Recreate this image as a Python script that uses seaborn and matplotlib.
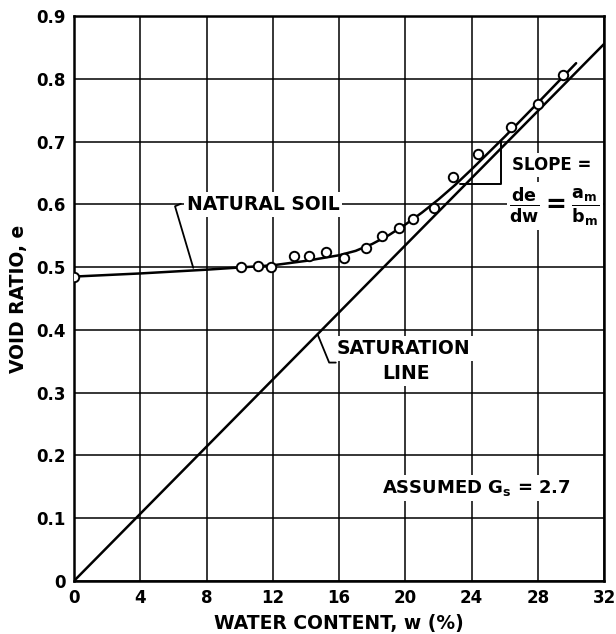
import matplotlib
matplotlib.use("Agg")
import matplotlib.pyplot as plt
import seaborn as sns
import numpy as np
import pandas as pd

# ---- data ----
w_points = [0, 10.1, 11.1, 11.9, 13.3, 14.2, 15.2, 16.3, 17.6, 18.6, 19.6, 20.45, 21.7, 22.9, 24.4, 26.4, 28.0, 29.5]
e_points = [0.485, 0.501, 0.502, 0.501, 0.518, 0.518, 0.524, 0.515, 0.530, 0.550, 0.563, 0.577, 0.595, 0.643, 0.680, 0.724, 0.760, 0.806]

w_curve = [0, 4, 8, 12, 14, 16, 17, 18, 19, 20, 21, 22, 23, 24, 25, 26, 28, 30.3]
e_curve = [0.485, 0.490, 0.496, 0.503, 0.510, 0.519, 0.526, 0.537, 0.551, 0.568, 0.587, 0.608, 0.631, 0.656, 0.682, 0.708, 0.762, 0.825]

w_sat = [0, 32]
e_sat = [0, 0.856]

x_ticks = [0, 4, 8, 12, 16, 20, 24, 28, 32]
y_ticks = [0, 0.1, 0.2, 0.3, 0.4, 0.5, 0.6, 0.7, 0.8, 0.9]
y_tick_labels = ["0", "0.1", "0.2", "0.3", "0.4", "0.5", "0.6", "0.7", "0.8", "0.9"]

sns.set_style("white")
plt.rcParams['font.family'] = ['DejaVu Sans']
plt.rcParams.update({"text.color": "black", "axes.labelcolor": "black",
                     "xtick.color": "black", "ytick.color": "black"})

fig = plt.figure(figsize=(6.16, 6.34), dpi=100)
ax = fig.add_axes([0.120, 0.0836, 0.861, 0.891])

pts = pd.DataFrame({"w": w_points, "e": e_points})
cur = pd.DataFrame({"w": w_curve, "e": e_curve})
sat = pd.DataFrame({"w": w_sat, "e": e_sat})

sns.lineplot(data=sat, x="w", y="e", color="black", lw=1.8, ax=ax, zorder=4)
sns.lineplot(data=cur, x="w", y="e", color="black", lw=1.8, ax=ax, sort=False, zorder=4)
sns.scatterplot(data=pts, x="w", y="e", marker="o", s=46, facecolor="white",
                edgecolor="black", linewidth=1.4, ax=ax, zorder=5)

ax.set_xlim(0, 32)
ax.set_ylim(0, 0.9)
ax.set_xticks(x_ticks)
ax.set_yticks(y_ticks)
ax.set_yticklabels(y_tick_labels)
ax.tick_params(length=0, pad=6, labelsize=12, colors="black")
for lab in ax.get_xticklabels() + ax.get_yticklabels():
    lab.set_fontweight("bold")
ax.grid(True, color="black", lw=1.1)
ax.set_axisbelow(True)
for sp in ax.spines.values():
    sp.set_color("black")
    sp.set_linewidth(1.8)

ax.set_xlabel("WATER CONTENT, w (%)", fontsize=13.5, fontweight="bold", labelpad=5)
ax.set_ylabel("VOID RATIO, e", fontsize=13.5, fontweight="bold", labelpad=6)

bb = dict(facecolor="white", edgecolor="none", pad=2)
tk = dict(fontweight="bold", color="black", zorder=3)

ax.text(6.8, 0.600, "NATURAL SOIL", ha="left", va="center", bbox=bb, fontsize=13.5, **tk)
ax.plot([6.45, 6.1, 7.2], [0.601, 0.597, 0.499], color="black", lw=1.3, zorder=4)

ax.text(28.8, 0.663, "SLOPE =", ha="center", va="center", bbox=bb, fontsize=12, **tk)
ax.text(29.0, 0.597, r"$\mathbf{\frac{de}{dw} = \frac{a_m}{b_m}}$", ha="center", va="center",
        bbox=bb, fontsize=18, zorder=3, color="black")
ax.plot([23.3, 25.75, 25.75], [0.632, 0.632, 0.70], color="black", lw=1.4, zorder=4)

ax.text(19.9, 0.370, "SATURATION", ha="center", va="center", bbox=bb, fontsize=13.5, **tk)
ax.text(20.05, 0.331, "LINE", ha="center", va="center", bbox=bb, fontsize=13.5, **tk)
ax.plot([15.8, 15.4, 14.7], [0.348, 0.348, 0.393], color="black", lw=1.3, zorder=4)

ax.text(24.3, 0.148, r"ASSUMED G$_\mathbf{s}$ = 2.7", ha="center", va="center", bbox=bb, fontsize=13, **tk)

fig.savefig("out.png", dpi=100)
